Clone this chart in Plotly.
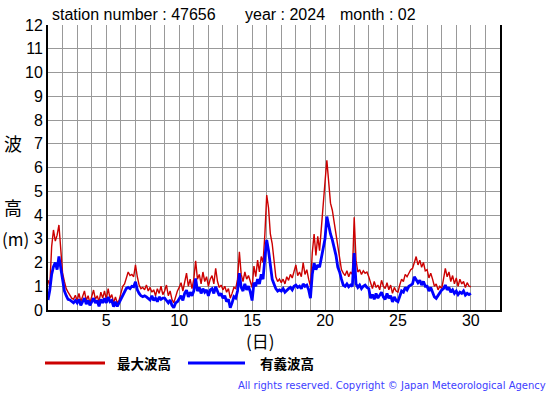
import plotly.graph_objects as go

# 3-hourly samples, days 1.0 .. 30.0
day_start = 1.0
step_hours = 3

max_wave = [
    1.26, 1.0, 2.67, 3.37, 2.9, 3.15, 3.58, 2.6,      # day 1
    1.55, 1.2, 0.9, 0.75, 0.6, 0.5, 0.45, 0.62,       # day 2
    0.4, 0.7, 0.35, 0.55, 0.8, 0.4, 0.6, 0.3,         # day 3
    0.55, 0.84, 0.45, 0.6, 0.35, 0.75, 0.5, 0.8,      # day 4
    0.45, 0.9, 0.5, 0.65, 0.3, 0.55, 0.3, 0.4,        # day 5
    0.7, 1.0, 1.1, 1.35, 1.6, 1.45, 1.5, 1.4,         # day 6
    1.9, 1.4, 1.05, 0.9, 0.95, 0.85, 1.05, 0.8,       # day 7
    0.95, 0.75, 0.85, 0.6, 0.9, 0.7, 1.0, 0.65,       # day 8
    0.8, 1.05, 0.6, 0.8, 0.45, 0.3, 0.6, 0.8,         # day 9
    0.95, 1.15, 0.8, 1.2, 1.55, 1.0, 1.3, 0.9,        # day 10
    1.3, 2.07, 1.3, 1.5, 1.1, 1.6, 1.2, 1.4,          # day 11
    1.0, 1.3, 1.45, 1.1, 1.75, 1.2, 0.95, 1.05,       # day 12
    0.85, 1.0, 0.75, 0.9, 0.5, 0.7, 0.95, 0.9,        # day 13
    1.3, 2.45, 1.5, 1.2, 1.6, 1.3, 1.45, 1.2,         # day 14
    0.95, 1.85, 1.4, 2.1, 1.6, 2.25, 2.0, 3.2,        # day 15
    4.84, 4.3, 3.2, 2.8, 1.97, 1.4, 1.2, 1.3,         # day 16
    1.15, 1.3, 1.1, 1.4, 1.25, 1.5, 1.35, 1.6,        # day 17
    1.9, 1.45, 1.6, 1.4, 2.0, 1.5, 1.7, 1.3,          # day 18
    1.0, 2.4, 3.2, 2.3, 3.1, 2.5, 3.6, 4.6,           # day 19
    5.4, 6.3, 5.5, 4.5, 4.2, 3.7, 3.0, 2.5,           # day 20
    2.0, 1.7, 1.55, 1.45, 1.65, 1.4, 1.6, 1.5,        # day 21
    3.9, 2.1, 1.6, 1.7, 1.5, 1.65, 1.55, 1.6,         # day 22
    1.4, 1.1, 0.9, 1.2, 0.95, 1.05, 0.85, 1.25,       # day 23
    1.0, 0.9, 1.15, 0.85, 1.05, 0.7, 0.95, 0.8,       # day 24
    0.75, 1.05, 1.3, 1.2, 1.5, 1.4, 1.55, 1.7,        # day 25
    1.75, 2.0, 2.25, 1.9, 2.1, 1.8, 2.0, 1.65,        # day 26
    1.7, 1.35, 1.55, 1.3, 1.0, 1.1, 0.85, 1.0,        # day 27
    0.9, 1.3, 1.75, 1.4, 1.6, 1.2, 1.45, 1.1,         # day 28
    1.35, 1.0, 1.3, 1.1, 1.2, 0.95, 1.15, 1.0,        # day 29
    0.98,                                             # day 30 00h
]

significant_wave = [
    0.42, 0.84, 1.5, 1.82, 2.0, 1.7, 2.25, 1.75,      # day 1
    1.1, 0.8, 0.6, 0.45, 0.42, 0.35, 0.3, 0.4,        # day 2
    0.3, 0.45, 0.2, 0.35, 0.5, 0.25, 0.4, 0.2,        # day 3
    0.35, 0.5, 0.3, 0.4, 0.15, 0.45, 0.3, 0.5,        # day 4
    0.3, 0.55, 0.35, 0.4, 0.14, 0.35, 0.15, 0.3,      # day 5
    0.45, 0.56, 0.7, 0.91, 0.95, 0.9, 1.0, 0.98,      # day 6
    1.19, 0.85, 0.7, 0.6, 0.56, 0.6, 0.55, 0.5,       # day 7
    0.42, 0.6, 0.4, 0.5, 0.35, 0.55, 0.45, 0.5,       # day 8
    0.5, 0.4, 0.3, 0.42, 0.2, 0.1, 0.3, 0.35,         # day 9
    0.45, 0.6, 0.4, 0.7, 0.84, 0.55, 0.75, 0.6,       # day 10
    0.8, 1.33, 0.8, 0.95, 0.7, 0.9, 0.75, 0.85,       # day 11
    0.6, 0.85, 0.9, 0.7, 0.98, 0.8, 0.6, 0.7,         # day 12
    0.5, 0.6, 0.35, 0.45, 0.1, 0.3, 0.56, 0.5,        # day 13
    0.8, 1.55, 0.95, 0.8, 1.1, 0.85, 1.0, 0.75,       # day 14
    0.4, 1.15, 1.0, 1.3, 1.1, 1.5, 1.3, 2.2,          # day 15
    2.95, 2.5, 1.9, 1.3, 1.1, 0.9, 0.8, 0.85,         # day 16
    0.8, 0.9, 0.75, 0.85, 0.9, 0.95, 0.85, 1.0,       # day 17
    1.05, 0.95, 1.0, 0.9, 1.1, 1.0, 1.05, 0.85,       # day 18
    0.5, 1.5, 1.97, 1.7, 1.9, 1.8, 2.2, 2.5,          # day 19
    3.0, 3.93, 3.5, 3.2, 2.95, 2.6, 2.3, 1.8,         # day 20
    1.6, 1.3, 1.05, 1.0, 1.1, 0.98, 1.05, 1.0,        # day 21
    2.4, 1.1, 0.95, 1.05, 0.9, 1.0, 1.05, 0.95,       # day 22
    0.9, 0.5, 0.65, 0.45, 0.7, 0.5, 0.6, 0.75,        # day 23
    0.55, 0.45, 0.7, 0.5, 0.6, 0.34, 0.55, 0.4,       # day 24
    0.35, 0.6, 0.8, 0.75, 0.95, 0.85, 1.0, 1.05,      # day 25
    1.1, 1.4, 1.3, 1.15, 1.25, 1.05, 1.2, 1.0,        # day 26
    1.0, 0.8, 0.95, 0.77, 0.55, 0.49, 0.6, 0.75,      # day 27
    0.84, 0.9, 1.05, 0.85, 0.95, 0.75, 0.85, 0.7,     # day 28
    0.8, 0.65, 0.75, 0.7, 0.8, 0.63, 0.7, 0.65,       # day 29
    0.7,                                              # day 30 00h
]

x_ticks = list(range(1, 33))
x_ticklabels = [str(d) if d % 5 == 0 else "" for d in x_ticks]
y_ticks = list(range(0, 13))

series_names = ["最大波高", "有義波高"]
series_colors = ["#cc0000", "#0000ff"]

times = [day_start + i * step_hours / 24 for i in range(len(max_wave))]

W, H = 555, 395
ML, MR, MT, MB = 48, 55, 25, 85
PW, PH = W - ML - MR, H - MT - MB


def px(x):
    return (x - ML) / PW


def py(y):
    return (H - MB - y) / PH


fig = go.Figure()
fig.add_trace(go.Scatter(x=times, y=max_wave, mode="lines", name=series_names[0],
                         line=dict(color=series_colors[0], width=1.4), showlegend=False))
fig.add_trace(go.Scatter(x=times, y=significant_wave, mode="lines", name=series_names[1],
                         line=dict(color=series_colors[1], width=2.8), showlegend=False))

font_main = "Liberation Sans, Arial, sans-serif"
font_cjk = "Noto Sans CJK JP, sans-serif"

fig.update_layout(
    width=W, height=H,
    margin=dict(l=ML, r=MR, t=MT, b=MB),
    paper_bgcolor="white", plot_bgcolor="white",
    font=dict(family=font_main, size=16, color="black"),
    xaxis=dict(range=[1, 32], tickmode="array", tickvals=x_ticks, ticktext=x_ticklabels,
               showgrid=True, gridcolor="#999999", gridwidth=1, zeroline=False,
               showline=True, linecolor="black", linewidth=2, ticks="", ticklen=0,
               ticklabelstandoff=-5, tickfont=dict(size=16)),
    yaxis=dict(range=[0, 12], tickmode="array", tickvals=y_ticks,
               showgrid=True, gridcolor="#999999", gridwidth=1, zeroline=False,
               showline=True, linecolor="black", linewidth=2, mirror=True, ticks="", ticklen=0,
               tickfont=dict(size=16)),
)

ann = []
for text, x in [("station number : 47656", 50), ("year : 2024", 243), ("month : 02", 338)]:
    ann.append(dict(text=text, x=px(x), y=py(15), xref="paper", yref="paper",
                    xanchor="left", yanchor="middle", showarrow=False,
                    font=dict(family=font_main, size=16, color="black")))
for text, x, y in [("波", 13, 143), ("高", 13, 207)]:
    ann.append(dict(text=text, x=px(x), y=py(y), xref="paper", yref="paper",
                    xanchor="center", yanchor="middle", showarrow=False,
                    font=dict(family=font_cjk, size=18, color="black")))
ann.append(dict(text="(m)", x=px(0), y=py(238), xref="paper", yref="paper",
                xanchor="left", yanchor="middle", showarrow=False,
                font=dict(family=font_cjk, size=17, color="black")))
ann.append(dict(text="(日)", x=px(260), y=py(341), xref="paper", yref="paper",
                xanchor="center", yanchor="middle", showarrow=False,
                font=dict(family=font_cjk, size=17, color="black")))
# legend
legend_items = [(45, 105, 115), (188, 245, 258)]
shapes = []
for (x0, x1, tx), name, color in zip(legend_items, series_names, series_colors):
    shapes.append(dict(type="line", xref="paper", yref="paper",
                       x0=px(x0), x1=px(x1), y0=py(363), y1=py(363),
                       line=dict(color=color, width=3)))
    ann.append(dict(text="<b>" + name + "</b>", x=px(tx), y=py(363), xref="paper", yref="paper",
                    xanchor="left", yanchor="middle", showarrow=False,
                    font=dict(family=font_cjk, size=13.5, color="black")))
ann.append(dict(text="All rights reserved. Copyright © Japan Meteorological Agency",
                x=px(548), y=py(385), xref="paper", yref="paper",
                xanchor="right", yanchor="middle", showarrow=False,
                font=dict(family="DejaVu Sans, sans-serif", size=10, color="#4040ff")))

fig.update_layout(annotations=ann, shapes=shapes)
fig.write_html("out.html", config={"displayModeBar": False},
               post_script="document.body.style.margin='0px';")
